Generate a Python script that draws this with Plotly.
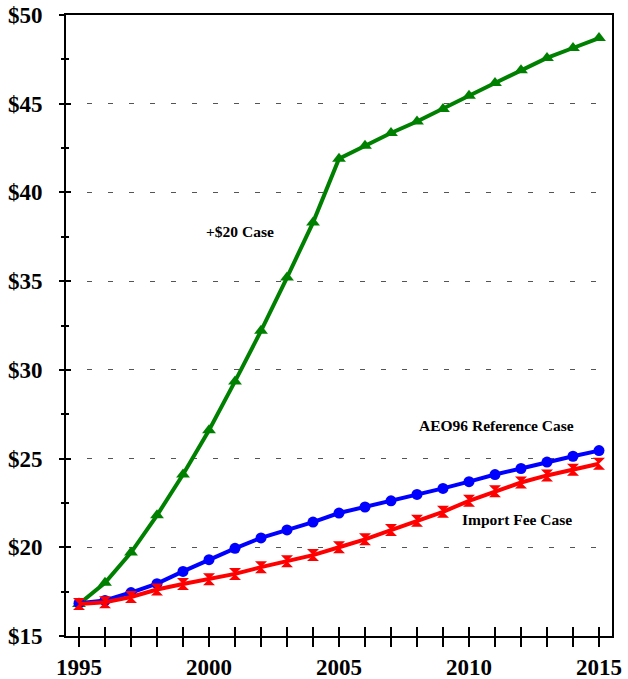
import plotly.graph_objects as go

years = list(range(1995, 2016))
plus20_case = [16.8, 18.0, 19.7, 21.8, 24.1, 26.6, 29.35, 32.2, 35.2, 38.3, 41.9,
               42.63, 43.35, 44.0, 44.7, 45.45, 46.17, 46.88, 47.58, 48.14, 48.7]
reference_case = [16.85, 17.0, 17.45, 17.95, 18.64, 19.3, 19.94, 20.53, 20.98, 21.42, 21.93,
                  22.27, 22.62, 22.98, 23.32, 23.7, 24.1, 24.44, 24.8, 25.13, 25.45]
import_fee_case = [16.8, 16.9, 17.2, 17.62, 17.93, 18.2, 18.5, 18.88, 19.22, 19.56, 20.0,
                   20.45, 20.97, 21.49, 22.0, 22.62, 23.16, 23.65, 24.05, 24.37, 24.71]

x_tick_labels = {1995: "1995", 2000: "2000", 2005: "2005", 2010: "2010", 2015: "2015"}
y_tick_vals = [15, 20, 25, 30, 35, 40, 45, 50]
y_tick_text = ["$15", "$20", "$25", "$30", "$35", "$40", "$45", "$50"]

labels = [
    ("+$20 Case", 2001.2, 37.8),
    ("AEO96 Reference Case", 2011.07, 26.86),
    ("Import Fee Case", 2011.84, 21.55),
]

tick_font = dict(family="Liberation Serif, Times New Roman, serif", size=23, color="black", weight="bold")

fig = go.Figure()
fig.add_trace(go.Scatter(x=years, y=plus20_case, mode="lines+markers", name="+$20 Case",
                         line=dict(color="#008000", width=4),
                         marker=dict(symbol="triangle-up", size=12, color="#008000")))
fig.add_trace(go.Scatter(x=years, y=reference_case, mode="lines+markers", name="AEO96 Reference Case",
                         line=dict(color="#0000FF", width=4),
                         marker=dict(symbol="circle", size=11, color="#0000FF")))
fig.add_trace(go.Scatter(x=years, y=import_fee_case, mode="lines+markers", name="Import Fee Case",
                         line=dict(color="#FF0000", width=4),
                         marker=dict(symbol="hourglass", size=12, color="#FF0000")))
# invisible trace on the overlay axes so they render
fig.add_trace(go.Scatter(x=[years[0]], y=[plus20_case[0]], xaxis="x2", yaxis="y2",
                         mode="markers", marker=dict(opacity=0), showlegend=False, hoverinfo="skip"))

for text, xv, yv in labels:
    fig.add_annotation(x=xv, y=yv, text=f"<b>{text}</b>", showarrow=False,
                       font=dict(family="Liberation Serif, Times New Roman, serif", size=15.5, color="black"))

fig.update_layout(
    width=628, height=679,
    margin=dict(l=66, r=16, t=15, b=43),
    paper_bgcolor="white", plot_bgcolor="white",
    showlegend=False,
    xaxis=dict(range=[1994.5, 2015.5], tickvals=years, automargin=False,
               ticktext=[x_tick_labels.get(y, '') for y in years],
               ticks="outside", ticklen=9, tickwidth=2, tickcolor="black",
               showline=True, linewidth=2, linecolor="black", mirror=True,
               showgrid=False, zeroline=False, tickfont=tick_font),
    yaxis=dict(range=[15, 50], tickvals=y_tick_vals, automargin=False,
               ticktext=y_tick_text, ticklabelstandoff=12,
               ticks="outside", ticklen=5, tickwidth=2, tickcolor="black",
               minor=dict(dtick=2.5, tick0=15, ticks="outside", ticklen=3, tickwidth=2, tickcolor="black", showgrid=False),
               showline=True, linewidth=2, linecolor="black", mirror=True,
               showgrid=True, gridcolor="#555555", gridwidth=1, griddash="5px,16px",
               zeroline=False, tickfont=tick_font),
    xaxis2=dict(range=[1994.5, 2015.5], overlaying="x", side="bottom", tickvals=years, automargin=False,
                showticklabels=False, ticks="inside", ticklen=9, tickwidth=2, tickcolor="black",
                showgrid=False, zeroline=False, showline=False),
    yaxis2=dict(range=[15, 50], overlaying="y", side="left", tickvals=y_tick_vals, automargin=False,
                showticklabels=False, ticks="inside", ticklen=5, tickwidth=2, tickcolor="black",
                minor=dict(dtick=2.5, tick0=15, ticks="inside", ticklen=3, tickwidth=2, tickcolor="black", showgrid=False),
                showgrid=False, zeroline=False, showline=False),
)

fig.write_html("out.html", config={"displayModeBar": False},
               post_script="document.body.style.margin='0';document.body.style.overflow='hidden';")
